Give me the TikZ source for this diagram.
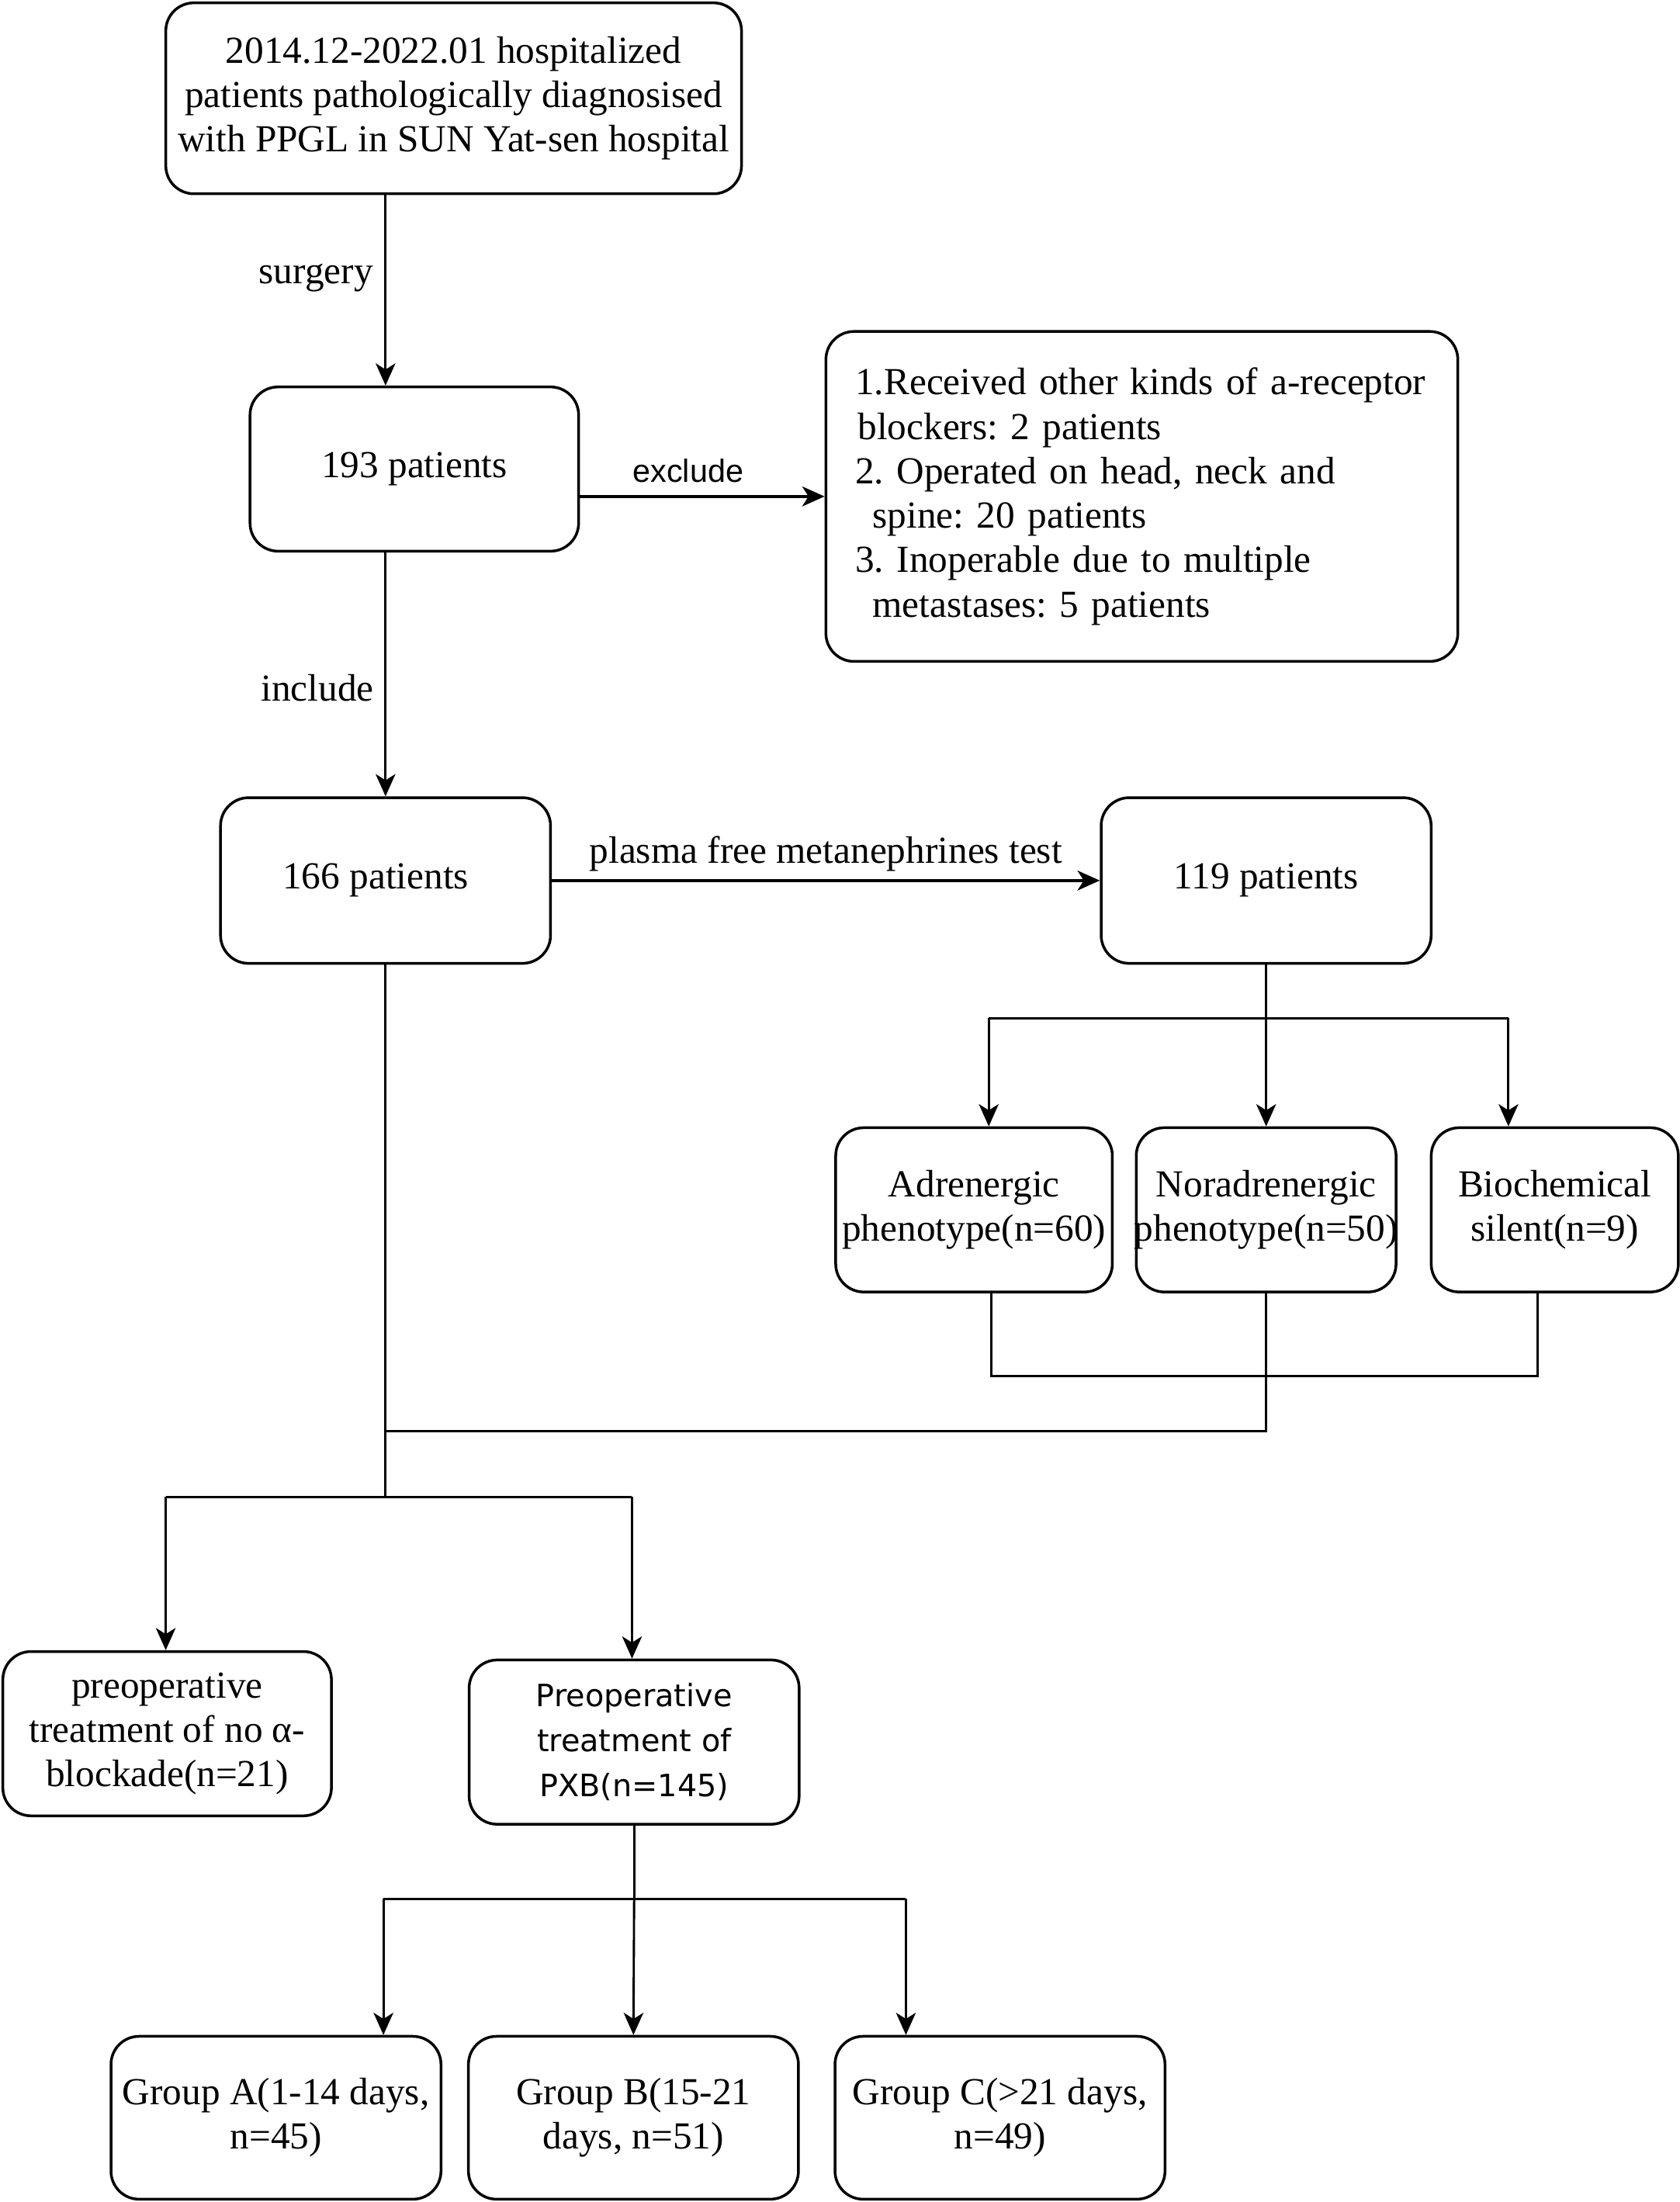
\documentclass[tikz,border=0pt]{standalone}
\usepackage{fontspec}
\setmainfont{Liberation Serif}
\newfontfamily\arialfont{Liberation Sans}
\newfontfamily\dejavufont{DejaVu Sans}
\usetikzlibrary{arrows.meta}

\begin{document}
\frenchspacing
\begin{tikzpicture}[x=0.02cm,y=-0.02cm,
		box/.style={draw,line width=1.1pt,rounded corners=0.4cm,align=center,inner sep=2pt,font=\fontsize{15.5}{18}\selectfont},
		line/.style={line width=0.9pt},
		arr/.style={line width=0.9pt,-{Stealth[length=9pt,width=8pt,inset=2.5pt]}},
		harr/.style={arr,line width=1.4pt},
		lbl/.style={font=\fontsize{15.5}{18}\selectfont}]
		\useasboundingbox (0,0) rectangle (1196,1568);
		\node[box,minimum width=8.2cm,minimum height=2.72cm] (top) at (323,70) {2014.12-2022.01 hospitalized\\patients pathologically diagnosised\\with PPGL in SUN Yat-sen hospital};
		\node[box,minimum width=4.68cm,minimum height=2.34cm] (n193) at (295,334) {193 patients};
		\node[box,minimum width=9cm,minimum height=4.7cm,text width=8.16cm,align=left,inner xsep=0.42cm] (excl) at (813,353.5) {1.Received other kinds of a-receptor\\\hspace*{1pt}blockers: 2 patients\\2. Operated on head, neck and\\\hspace*{7pt}spine: 20 patients\\3. Inoperable due to multiple\\\hspace*{7pt}metastases: 5 patients};
		\node[box,minimum width=4.7cm,minimum height=2.36cm] (n166) at (274.5,627) {\hspace*{-8pt}166 patients};
		\node[box,minimum width=4.7cm,minimum height=2.36cm] (n119) at (901.5,627) {119 patients};
		\node[box,minimum width=3.94cm,minimum height=2.34cm] (adr) at (693.5,861.5) {Adrenergic\\phenotype(n=60)};
		\node[box,minimum width=3.7cm,minimum height=2.34cm] (nor) at (901.5,861.5) {Noradrenergic\\\makebox[0pt]{phenotype(n=50)}};
		\node[box,minimum width=3.52cm,minimum height=2.34cm] (bio) at (1107,861.5) {Biochemical\\silent(n=9)};
		\node[box,minimum width=4.68cm,minimum height=2.34cm] (nob) at (119,1234.5) {preoperative\\treatment of no α-\\blockade(n=21)};
		\node[box,minimum width=4.7cm,minimum height=2.34cm,font=\dejavufont\fontsize{12.5}{18.3}\selectfont] (pxb) at (451.5,1240.5) {Preoperative\\treatment of\\PXB(n=145)};
		\node[box,minimum width=4.7cm,minimum height=2.32cm] (ga) at (196.5,1508) {Group A(1-14 days,\\n=45)};
		\node[box,minimum width=4.7cm,minimum height=2.32cm] (gb) at (451,1508) {Group B(15-21\\days, n=51)};
		\node[box,minimum width=4.7cm,minimum height=2.32cm] (gc) at (712,1508) {Group C(>21 days,\\n=49)};

		\coordinate (sp) at (274.5,0);
		\draw[arr] (top.south -| sp) -- (n193.north -| sp);
		\node[lbl] (lsurg) at (225,198) {surgery};
		\draw[harr] (n193.east |- excl.west) -- (excl.west);
		\node[font=\arialfont\fontsize{13}{15}\selectfont] (lexcl) at (490,335) {exclude};
		\draw[arr] (n193.south -| sp) -- (n166.north);
		\node[lbl] (lincl) at (226,490) {include};
		\draw[harr] (n166.east) -- (n119.west);
		\node[lbl] (lpmt) at (588,608) {plasma free metanephrines test};

		\coordinate (pa) at (704,725);
		\coordinate (pc) at (1074,725);
		\draw[line] (n119.south) -- (n119.south |- pa);
		\draw[line] (pa) -- (pc);
		\draw[arr] (pa) -- (pa |- adr.north);
		\draw[arr] (n119.south |- pa) -- (nor.north);
		\draw[arr] (pc) -- (pc |- bio.north);

		\coordinate (qa) at (706,980);
		\coordinate (qc) at (1095,980);
		\draw[line] (qa |- adr.south) -- (qa) -- (qc) -- (qc |- bio.south);
		\coordinate (mg) at (902,1019);
		\draw[line] (nor.south) -- (nor.south |- mg) -- (mg -| sp);

		\coordinate (la) at (118,1066);
		\coordinate (lb) at (450,1066);
		\draw[line] (n166.south) -- (n166.south |- la);
		\draw[line] (la) -- (lb);
		\draw[arr] (la) -- (la |- nob.north);
		\draw[arr] (lb) -- (lb |- pxb.north);

		\coordinate (ka) at (273,1352);
		\coordinate (kc) at (645,1352);
		\draw[line] (pxb.south) -- (pxb.south |- ka);
		\draw[line] (ka) -- (kc);
		\draw[arr] (ka) -- (ka |- ga.north);
		\draw[arr] (pxb.south |- ka) -- (gb.north);
		\draw[arr] (kc) -- (kc |- gc.north);
	\end{tikzpicture}
\end{document}
